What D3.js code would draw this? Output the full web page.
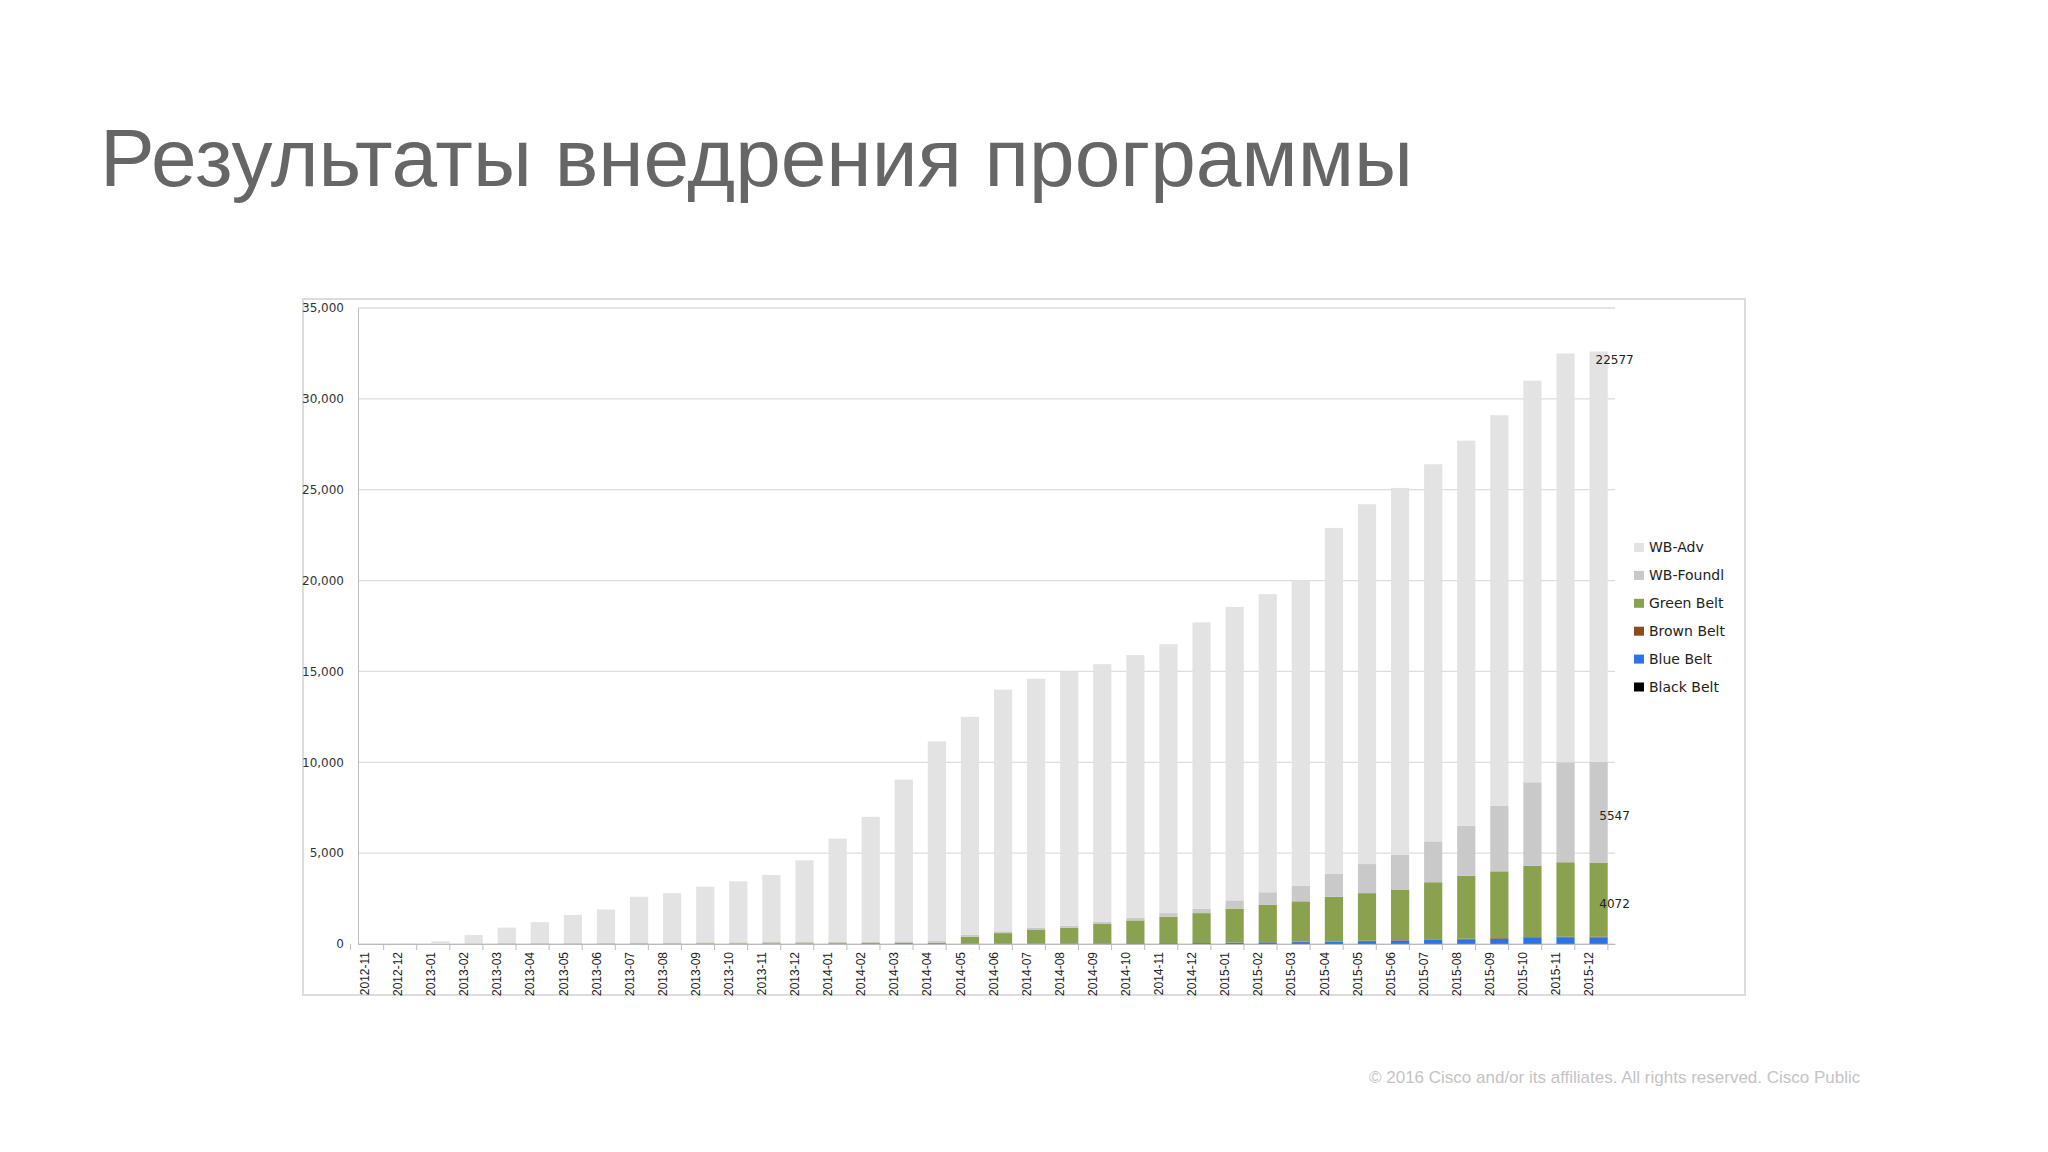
<!DOCTYPE html>
<html><head><meta charset="utf-8">
<script src="https://cdn.jsdelivr.net/npm/d3@7"></script>
<style>body{margin:0;background:#fff}svg{display:block}</style>
</head><body>
<svg id="c" width="2048" height="1152"></svg>
<script>
const categories=["2012-11","2012-12","2013-01","2013-02","2013-03","2013-04","2013-05","2013-06","2013-07","2013-08","2013-09","2013-10","2013-11","2013-12","2014-01","2014-02","2014-03","2014-04","2014-05","2014-06","2014-07","2014-08","2014-09","2014-10","2014-11","2014-12","2015-01","2015-02","2015-03","2015-04","2015-05","2015-06","2015-07","2015-08","2015-09","2015-10","2015-11","2015-12"];
const blackBelt=[0,0,0,0,0,0,0,0,0,0,0,0,0,0,0,0,0,0,0,0,0,0,0,0,0,0,5,5,5,5,8,8,8,10,10,10,10,10];
const blueBelt=[0,0,0,0,0,0,0,0,0,0,0,0,0,0,0,0,0,0,10,15,20,20,25,30,35,40,60,80,100,120,150,180,220,250,280,320,340,350];
const brownBelt=[0,0,0,0,0,0,0,0,0,0,0,0,0,0,0,0,0,0,5,5,5,10,10,10,10,15,15,20,20,20,25,25,30,30,35,40,45,50];
const greenBelt=[0,0,5,10,15,20,20,25,30,30,35,35,40,40,45,50,55,60,385,580,775,870,1065,1260,1455,1645,1870,2045,2225,2455,2617,2787,3142,3460,3675,3930,4105,4072];
const wbFoundl=[0,10,20,30,40,40,50,50,60,60,60,60,70,70,80,80,90,100,100,100,100,100,120,150,200,250,450,700,850,1250,1600,1900,2250,2750,3600,4600,5500,5547];
const wbAdv=[0,40,125,460,845,1140,1530,1825,2510,2710,3055,3355,3690,4490,5675,6870,8905,10990,12000,13300,13700,14000,14180,14450,14800,15750,16150,16400,16800,19050,19800,20200,20750,21200,21500,22100,22500,22577];
const yTicks=[0,5000,10000,15000,20000,25000,30000,35000];
const seriesNames=["Black Belt","Blue Belt","Brown Belt","Green Belt","WB-Foundl","WB-Adv"];
const seriesData=[blackBelt,blueBelt,brownBelt,greenBelt,wbFoundl,wbAdv];
const colors=["#000000","#2a74e8","#8b4a22","#8aa24f","#c9c9c9","#e3e3e3"];
const labelled={"WB-Adv":22577,"WB-Foundl":5547,"Green Belt":4072};

const svg=d3.select("#c");
svg.append("text").attr("x",100).attr("y",186).attr("font-family","Liberation Sans, Arial, sans-serif")
 .attr("font-size",82).attr("fill","#666").text("Результаты внедрения программы");
svg.append("rect").attr("x",303).attr("y",299).attr("width",1442).attr("height",696).attr("fill","#fff").attr("stroke","#dcdcdc").attr("stroke-width",2);

const x=d3.scaleBand().domain(categories).range([358,1615]).paddingInner(0.45).paddingOuter(0.22);
const y=d3.scaleLinear().domain([0,35000]).range([944,308]);
const font="Liberation Sans, Arial, sans-serif";
// grid
svg.append("g").selectAll("line").data(yTicks).join("line").attr("x1",358).attr("x2",1615)
 .attr("y1",d=>y(d)).attr("y2",d=>y(d)).attr("stroke","#dddddd").attr("stroke-width",1.3);
// y axis
const ya=svg.append("g").attr("transform","translate(358,0)").call(d3.axisLeft(y).tickValues(yTicks).tickSize(0).tickPadding(14));
ya.select(".domain").attr("stroke","#bbb");
ya.selectAll("text").attr("font-family","Verdana, DejaVu Sans, sans-serif").attr("font-size",12).attr("fill","#333");
// stack
const table=categories.map((c,i)=>{const o={cat:c};seriesNames.forEach((s,j)=>o[s]=seriesData[j][i]);return o;});
const stack=d3.stack().keys(seriesNames)(table);
svg.append("g").selectAll("g").data(stack).join("g").attr("fill",(d,i)=>colors[i])
 .selectAll("rect").data(d=>d).join("rect")
 .attr("x",d=>x(d.data.cat)).attr("width",x.bandwidth())
 .attr("y",d=>y(d[1])).attr("height",d=>Math.max(0,y(d[0])-y(d[1])));
// x axis
const xa=svg.append("g").attr("transform","translate(0,944)").call(d3.axisBottom(x).tickSize(0).tickPadding(8));
xa.select(".domain").attr("stroke","#bbb");
xa.selectAll("text").attr("font-family","Liberation Sans Narrow, Liberation Sans, sans-serif").attr("font-size",12).attr("fill","#222")
 .attr("transform","rotate(-90)").attr("text-anchor","end").attr("dx","-8").attr("dy","-0.45em").attr("x",0).attr("y",0);
const step=x.step();
svg.append("g").selectAll("line").data(d3.range(categories.length+1)).join("line")
 .attr("x1",i=>x(categories[0])-x.paddingOuter()*step-x.bandwidth()*0+ (i*step) - (step-x.bandwidth())/2 + (x.paddingOuter()*step - (step-x.bandwidth())/2)*0)
 .attr("x2",function(){return d3.select(this).attr("x1");})
 .attr("y1",944).attr("y2",950).attr("stroke","#bbb");
// data labels on last bar
const lastStack=stack.map(s=>s[s.length-1]);
seriesNames.forEach((s,j)=>{if(labelled[s]!==undefined){const d=lastStack[j];
 const yy=s==="WB-Adv"?y(d[1])+12:(y(d[0])+y(d[1]))/2+ (s==="Green Belt"?8:8);
 svg.append("text").attr("x",x(categories[categories.length-1])+x.bandwidth()/2+16).attr("y",yy)
  .attr("text-anchor","middle").attr("font-family","Verdana, DejaVu Sans, sans-serif").attr("font-size",12).attr("fill","#222").text(labelled[s]);}});
// legend
const leg=["WB-Adv","WB-Foundl","Green Belt","Brown Belt","Blue Belt","Black Belt"];
const lg=svg.append("g").selectAll("g").data(leg).join("g").attr("transform",(d,i)=>`translate(1634,${549+i*27.9})`);
lg.append("rect").attr("x",0).attr("y",-6).attr("width",10).attr("height",9).attr("fill",d=>colors[seriesNames.indexOf(d)]);
lg.append("text").attr("x",15).attr("y",3).attr("font-family","Verdana, DejaVu Sans, sans-serif").attr("font-size",14).attr("fill","#222").text(d=>d);
// footer
svg.append("text").attr("x",1369).attr("y",1083).attr("font-family",font).attr("font-size",17).attr("fill","#c4c4c4")
 .text("© 2016  Cisco and/or its affiliates.  All rights reserved.   Cisco Public");
</script></body></html>
